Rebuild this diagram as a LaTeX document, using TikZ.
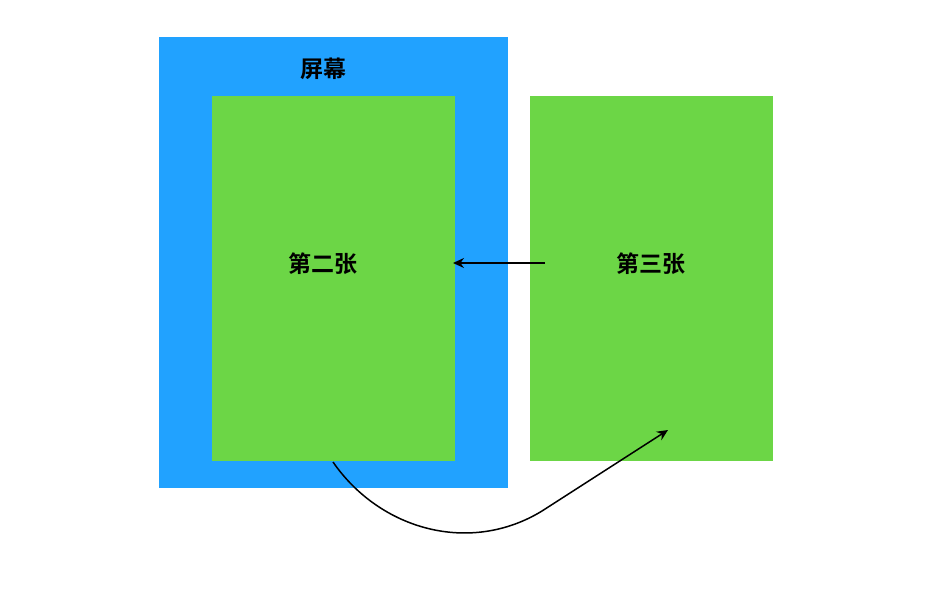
\documentclass[tikz,border=0pt]{standalone}
\usepackage{fontspec}
\newfontfamily\cjk{Noto Sans CJK SC}[BoldFont={* Bold}]
\usetikzlibrary{arrows.meta}
\definecolor{scrblue}{RGB}{33,162,255}
\definecolor{pggreen}{RGB}{108,214,70}
\tikzset{
  lbl/.style={font=\cjk\bfseries\fontsize{23}{27}\selectfont, text=black},
  conn/.style={draw=black, line width=1.5pt, -{Stealth[length=11pt,width=10pt]}}
}
\begin{document}
\begin{tikzpicture}[x=1pt,y=-1pt]
\useasboundingbox (0,0) rectangle (928,593);
\fill[white] (0,0) rectangle (928,593);
\node[fill=scrblue, minimum width=349pt, minimum height=451pt, inner sep=0, anchor=north west] (screen) at (159,37) {};
\node[fill=pggreen, minimum width=243pt, minimum height=365pt, inner sep=0, anchor=north west] (p2) at (212,96) {};
\node[fill=pggreen, minimum width=243pt, minimum height=365pt, inner sep=0, anchor=north west] (p3) at (530,96) {};
\node[lbl] (t1) at (323,69) {屏幕};
\node[lbl] (t2) at (323,264) {第二张};
\node[lbl] (t3) at (651,264) {第三张};
\coordinate (a3) at (545,263);
\coordinate (a2) at (453,263);
\draw[conn] (a3) -- (a2);
\coordinate (c0) at (333,462);
\coordinate (c1) at (542,511);
\coordinate (c2) at (668,430);
\draw[conn] (c0) .. controls (380,530) and (470,555) .. (c1) -- (c2);
\end{tikzpicture}
\end{document}
